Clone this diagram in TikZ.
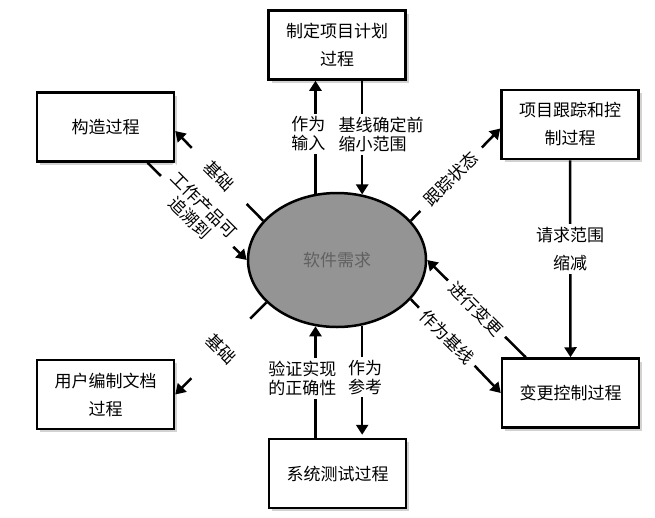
\documentclass[tikz,border=0pt]{standalone}
\usepackage{fontspec}
\newfontfamily\cjk{Noto Sans CJK SC}
\usepackage{tikz}
\usetikzlibrary{arrows.meta}
\usetikzlibrary{shapes.geometric,positioning,shadows}
\tikzset{
    procbox/.style={
        draw, line width=2.5pt, fill=white,
        minimum width=137pt, minimum height=69pt,
        align=center, font=\cjk\fontsize{17}{28}\selectfont,
        drop shadow={shadow xshift=3pt, shadow yshift=-3pt, fill=black!35}
    },
    % 连线样式和连线上的文字
    flowarrow/.style={
        line width=2.5pt,
        -{Triangle[length=10pt, width=12pt]}
    },
    flowlabel/.style={
        fill=white, inner sep=3pt, align=center,
        font=\cjk\fontsize{17}{19}\selectfont
    }
}

\begin{document}
\begin{tikzpicture}[x=1pt,y=-1pt]
   \useasboundingbox (0,0) rectangle (655,517);
   \node[ellipse, draw, line width=2.5pt, fill=black!42, text=black!62,
         minimum width=178pt, minimum height=134pt, inner sep=0pt,
         font=\cjk\fontsize{17}{20}\selectfont] (req) at (337,260) {软件需求};
   \node[procbox] (plan) at (337,45) {制定项目计划\\过程};
   \node[procbox] (build) at (105.5,127) {构造过程};
   \node[procbox] (doc) at (105.5,394.5) {用户编制文档\\过程};
   \node[procbox] (track) at (570,124.5) {项目跟踪和控\\制过程};
   \node[procbox] (change) at (570.5,393) {变更控制过程};
   \node[procbox] (test) at (337.5,473.5) {系统测试过程};

   \draw[flowarrow] (req.108) -- node[flowlabel, pos=0.53, xshift=-7pt] {作为\\输入} (req.108 |- plan.south);
   \draw[flowarrow] (req.69 |- plan.south) -- node[flowlabel, align=left, pos=0.47, xshift=19pt] {基线确定前\\缩小范围} (req.69);
   \draw[flowarrow] (req.252 |- test.north) -- node[flowlabel, pos=0.53, xshift=-13pt] {验证实现\\的正确性} (req.252);
   \draw[flowarrow, shorten >=3pt] (req.291) -- node[flowlabel, pos=0.46, xshift=3pt] {作为\\参考} (req.291 |- test.north);

   \draw[flowarrow] (req.152) -- node[flowlabel, rotate=-45, inner xsep=22pt] {基础} ([yshift=-4pt]build.east);
   \draw[flowarrow] ([xshift=42pt]build.south) -- node[flowlabel, rotate=-45, inner xsep=8pt, inner ysep=1pt] {工作产品可\\追溯到} (req.west);
   \draw[flowarrow] (req.211) -- node[flowlabel, rotate=-45, inner ysep=34pt, inner xsep=2pt] {基础} (doc.east);
   \draw[flowarrow] (req.28) -- node[flowlabel, rotate=45, pos=0.45, inner xsep=10pt] {跟踪状态} ([yshift=-4pt]track.west);
   \draw[flowarrow] ([xshift=25pt]change.north west) -- node[flowlabel, rotate=-45, inner xsep=6pt] {进行变更} (req.east);
   \draw[flowarrow] (req.332) -- node[flowlabel, rotate=-45, pos=0.4, inner xsep=6pt] {作为基线} (change.west);
   \draw[flowarrow] (track.south) -- node[flowlabel, pos=0.45, font=\cjk\fontsize{17}{28}\selectfont] {请求范围\\缩减} (change.north);
\end{tikzpicture}
\end{document}
